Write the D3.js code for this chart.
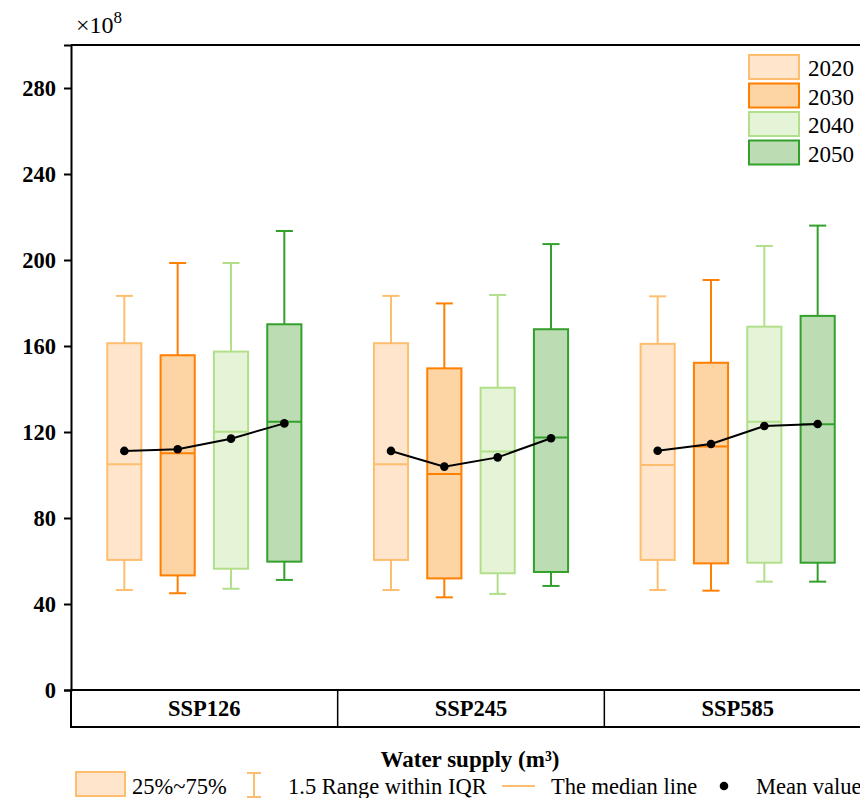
<!DOCTYPE html>
<html lang="en">
  <head>
    <meta charset="utf-8"/>
    <title>Water supply box plot</title>
    <script src="https://cdn.jsdelivr.net/npm/d3@7"></script>
    <style>
      body { margin: 0; background: #fff; }
      svg text { font-family: "Liberation Serif", "Times New Roman", serif; fill: #000; }
      .tick text { font-weight: bold; font-size: 22.5px; }
    </style>
  </head>
  <body>
    <div id="chart"></div>
    <script>
      // scenarios and years
      var scenarios = ["SSP126", "SSP245", "SSP585"];
      var years = ["2020", "2030", "2040", "2050"];
      var yTicks = [0, 40, 80, 120, 160, 200, 240, 280];

      // box statistics, one row per scenario, one value per year (x10^8 m3)
      var whiskerLow = [[46.5, 45.0, 47.1, 51.2], [46.5, 43.1, 44.7, 48.4], [46.5, 46.2, 50.4, 50.4]];
      var q1 = [[60.5, 53.3, 56.4, 59.7], [60.5, 51.9, 54.3, 54.9], [60.5, 58.9, 59.2, 59.2]];
      var median = [[105.0, 110.1, 120.1, 124.8], [105.0, 100.5, 110.9, 117.4], [104.7, 113.2, 124.8, 123.6]];
      var q3 = [[161.3, 155.7, 157.4, 170.1], [161.3, 149.6, 140.6, 167.8], [161.0, 152.2, 169.0, 174.0]];
      var whiskerHigh = [[183.3, 198.6, 198.6, 213.5], [183.3, 179.8, 183.7, 207.4], [183.1, 190.7, 206.5, 216.0]];
      var meanVal = [[111.2, 112.0, 116.9, 124.0], [111.2, 103.9, 108.2, 117.1], [111.3, 114.4, 122.8, 123.7]];

      var strokeCol = ["#fdbf6f", "#ff7f00", "#b2df8a", "#33a02c"];
      var fillCol = ["#fee5cc", "#fdd5a5", "#e5f4d6", "#bcddb4"];

      var width = 860, height = 798;
      var plotLeft = 71, plotRight = 871, plotTop = 45, plotBottom = 690;

      var svg = d3.select("#chart").append("svg")
        .attr("width", width)
        .attr("height", height);

      var y = d3.scaleLinear().domain([0, 300]).range([plotBottom, plotTop]);
      var x = d3.scaleBand().domain(scenarios).range([plotLeft, plotRight]);
      var xi = d3.scaleBand().domain(years).range([0, x.bandwidth()])
        .paddingOuter(0.68).paddingInner(0.36);

      // frame top line
      svg.append("line")
        .attr("x1", plotLeft).attr("x2", plotRight).attr("y1", plotTop).attr("y2", plotTop)
        .attr("stroke", "#000").attr("stroke-width", 2);

      // y axis
      var yAxis = svg.append("g")
        .attr("transform", "translate(" + plotLeft + ",0)")
        .call(d3.axisLeft(y).tickValues(yTicks).tickSize(7).tickPadding(8));
      yAxis.select(".domain").attr("stroke-width", 2);
      yAxis.selectAll(".tick line").attr("stroke-width", 2);
      yAxis.selectAll(".tick text").attr("dy", "0.35em");

      // x10^8 label
      var mult = svg.append("text").attr("x", 76).attr("y", 33).style("font-size", "24px");
      mult.append("tspan").text("×10");
      mult.append("tspan").attr("dy", -10).style("font-size", "17px").text("8");

      // category strip under the plot
      var stripH = 37;
      svg.append("rect")
        .attr("x", plotLeft).attr("y", plotBottom)
        .attr("width", plotRight - plotLeft).attr("height", stripH)
        .attr("fill", "none").attr("stroke", "#000").attr("stroke-width", 2);
      scenarios.forEach(function(s, i) {
        if (i > 0) {
          svg.append("line")
            .attr("x1", x(s)).attr("x2", x(s))
            .attr("y1", plotBottom).attr("y2", plotBottom + stripH)
            .attr("stroke", "#000").attr("stroke-width", 1.5);
        }
        svg.append("text")
          .attr("x", x(s) + x.bandwidth() / 2)
          .attr("y", plotBottom + stripH / 2)
          .attr("dy", "0.35em")
          .attr("text-anchor", "middle")
          .style("font-weight", "bold").style("font-size", "22.5px")
          .text(s);
      });

      // boxes
      var bw = xi.bandwidth();
      scenarios.forEach(function(s, si) {
        var g = svg.append("g").attr("transform", "translate(" + x(s) + ",0)");
        years.forEach(function(yr, yi) {
          var cx = xi(yr) + bw / 2;
          var c = strokeCol[yi];
          // whiskers
          g.append("line")
            .attr("x1", cx).attr("x2", cx)
            .attr("y1", y(whiskerHigh[si][yi])).attr("y2", y(q3[si][yi]))
            .attr("stroke", c).attr("stroke-width", 2);
          g.append("line")
            .attr("x1", cx).attr("x2", cx)
            .attr("y1", y(q1[si][yi])).attr("y2", y(whiskerLow[si][yi]))
            .attr("stroke", c).attr("stroke-width", 2);
          [whiskerHigh[si][yi], whiskerLow[si][yi]].forEach(function(v) {
            g.append("line")
              .attr("x1", cx - bw / 4).attr("x2", cx + bw / 4)
              .attr("y1", y(v)).attr("y2", y(v))
              .attr("stroke", c).attr("stroke-width", 2);
          });
          // box
          g.append("rect")
            .attr("x", xi(yr)).attr("y", y(q3[si][yi]))
            .attr("width", bw).attr("height", y(q1[si][yi]) - y(q3[si][yi]))
            .attr("fill", fillCol[yi]).attr("stroke", c).attr("stroke-width", 2);
          // median
          g.append("line")
            .attr("x1", xi(yr)).attr("x2", xi(yr) + bw)
            .attr("y1", y(median[si][yi])).attr("y2", y(median[si][yi]))
            .attr("stroke", c).attr("stroke-width", 2);
        });
        // mean line
        var line = d3.line()
          .x(function(d, i) { return xi(years[i]) + bw / 2; })
          .y(function(d) { return y(d); });
        g.append("path")
          .attr("d", line(meanVal[si]))
          .attr("fill", "none").attr("stroke", "#000").attr("stroke-width", 2);
        g.selectAll("circle")
          .data(meanVal[si])
          .enter()
          .append("circle")
          .attr("cx", function(d, i) { return xi(years[i]) + bw / 2; })
          .attr("cy", function(d) { return y(d); })
          .attr("r", 4.3)
          .attr("fill", "#000");
      });

      // year legend (top right)
      years.forEach(function(yr, i) {
        var ly = 55 + i * 28.5;
        svg.append("rect")
          .attr("x", 749).attr("y", ly)
          .attr("width", 50).attr("height", 24)
          .attr("fill", fillCol[i]).attr("stroke", strokeCol[i]).attr("stroke-width", 2);
        svg.append("text")
          .attr("x", 808).attr("y", ly + 13).attr("dy", "0.35em")
          .style("font-size", "23px")
          .text(yr);
      });

      // axis title
      svg.append("text")
        .attr("x", 470).attr("y", 759).attr("dy", "0.35em")
        .attr("text-anchor", "middle")
        .style("font-weight", "bold").style("font-size", "23px")
        .text("Water supply (m³)");

      // bottom legend
      var ly = 786;
      svg.append("rect")
        .attr("x", 76).attr("y", 772).attr("width", 49).attr("height", 24)
        .attr("fill", fillCol[0]).attr("stroke", strokeCol[0]).attr("stroke-width", 2);
      svg.append("text").attr("x", 132).attr("y", ly).attr("dy", "0.35em")
        .style("font-size", "22.5px").text("25%~75%");
      var wx = 254;
      svg.append("line").attr("x1", wx).attr("x2", wx).attr("y1", 773).attr("y2", 797)
        .attr("stroke", strokeCol[0]).attr("stroke-width", 2);
      [773, 797].forEach(function(v) {
        svg.append("line").attr("x1", wx - 7).attr("x2", wx + 7).attr("y1", v).attr("y2", v)
          .attr("stroke", strokeCol[0]).attr("stroke-width", 2);
      });
      svg.append("text").attr("x", 288).attr("y", ly).attr("dy", "0.35em")
        .style("font-size", "22.5px").text("1.5 Range within IQR");
      svg.append("line").attr("x1", 502).attr("x2", 535).attr("y1", ly).attr("y2", ly)
        .attr("stroke", strokeCol[0]).attr("stroke-width", 2);
      svg.append("text").attr("x", 551).attr("y", ly).attr("dy", "0.35em")
        .style("font-size", "22.5px").text("The median line");
      svg.append("circle").attr("cx", 724).attr("cy", ly).attr("r", 4.3).attr("fill", "#000");
      svg.append("text").attr("x", 756).attr("y", ly).attr("dy", "0.35em")
        .style("font-size", "22.5px").text("Mean value");
    </script>
  </body>
</html>
